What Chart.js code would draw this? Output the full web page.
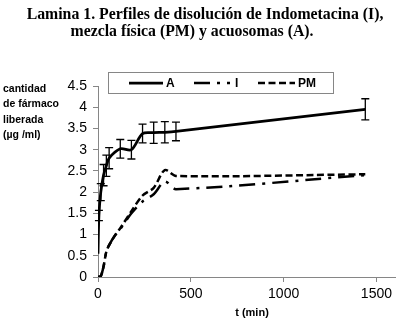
<!DOCTYPE html>
<html>
<head>
<meta charset="utf-8">
<script src="https://cdn.jsdelivr.net/npm/chart.js@4"></script>
<style>
html,body{margin:0;padding:0;background:#fff;}
#wrap{position:relative;width:398px;height:324px;}
</style>
</head>
<body>
<div id="wrap"><canvas id="c" width="398" height="324"></canvas></div>
<script>
// ---- data ----
const titleLines = ["Lamina 1. Perfiles de disolución de Indometacina (I),", "mezcla física (PM) y acuosomas (A)."];
const yTitleLines = ["cantidad", "de fármaco", "liberada", "(µg /ml)"];
const xTitle = "t (min)";
const seriesNames = ["A", "I", "PM"];

const tA   = [0, 5, 15, 30, 45, 60, 120, 180, 240, 300, 360, 420, 1440];
const valA = [0.55, 1.45, 2.0, 2.4, 2.62, 2.8, 3.02, 3.0, 3.38, 3.4, 3.41, 3.43, 3.95];
const errA = [0, 0.12, 0.2, 0.25, 0.25, 0.25, 0.22, 0.22, 0.22, 0.25, 0.25, 0.22, 0.25];

const tIPM  = [0, 15, 30, 45, 60, 90, 120, 180, 240, 300, 360, 420, 1440];
const valI  = [0, 0.02, 0.25, 0.6, 0.75, 0.97, 1.13, 1.5, 1.78, 1.95, 2.25, 2.07, 2.4];
const valPM = [0, 0.02, 0.25, 0.6, 0.75, 0.97, 1.15, 1.55, 1.92, 2.1, 2.52, 2.38, 2.42];

const xTicks = [0, 500, 1000, 1500];
const yTicks = [0, 0.5, 1, 1.5, 2, 2.5, 3, 3.5, 4, 4.5];

const toPts = (ts, vs) => ts.map((t, i) => ({x: t, y: vs[i]}));

const AXIS = '#868686';

const decor = {
  id: 'decor',
  afterDatasetsDraw(chart) {
    const ctx = chart.ctx, xs = chart.scales.x, ys = chart.scales.y;
    ctx.save();
    // error bars for A
    ctx.strokeStyle = '#000';
    ctx.lineWidth = 1.3;
    ctx.setLineDash([]);
    tA.forEach((t, i) => {
      const e = errA[i];
      if (!e) return;
      const x = xs.getPixelForValue(t);
      const y1 = ys.getPixelForValue(valA[i] + e);
      const y2 = ys.getPixelForValue(valA[i] - e);
      ctx.beginPath();
      ctx.moveTo(x, y1); ctx.lineTo(x, y2);
      ctx.moveTo(x - 4, y1); ctx.lineTo(x + 4, y1);
      ctx.moveTo(x - 4, y2); ctx.lineTo(x + 4, y2);
      ctx.stroke();
    });
    // legend box
    const lx = 108.5, ly = 72.5, lw = 225, lh = 21;
    ctx.fillStyle = '#fff';
    ctx.fillRect(lx, ly, lw, lh);
    ctx.strokeStyle = AXIS;
    ctx.lineWidth = 1;
    ctx.strokeRect(lx, ly, lw, lh);
    const items = [
      {ds: 0, x0: 129, x1: 163, tx: 166},
      {ds: 1, x0: 194, x1: 230, tx: 235},
      {ds: 2, x0: 258, x1: 295, tx: 298}
    ];
    const cy = ly + lh / 2;
    ctx.font = 'bold 12px "Liberation Sans", Arial, sans-serif';
    ctx.textBaseline = 'middle';
    ctx.textAlign = 'left';
    items.forEach(it => {
      const d = chart.data.datasets[it.ds];
      ctx.strokeStyle = '#000';
      ctx.lineWidth = d.borderWidth;
      ctx.lineCap = 'butt';
      ctx.setLineDash(d.borderDash || []);
      ctx.beginPath();
      ctx.moveTo(it.x0, cy); ctx.lineTo(it.x1, cy);
      ctx.stroke();
      ctx.setLineDash([]);
      ctx.fillStyle = '#000';
      ctx.fillText(d.label, it.tx, cy + 0.5);
    });
    ctx.restore();
  },
  afterDraw(chart) {
    const ctx = chart.ctx;
    ctx.save();
    ctx.fillStyle = '#000';
    // main title
    ctx.font = 'bold 15.8px "Liberation Serif", "Times New Roman", serif';
    ctx.textBaseline = 'middle';
    ctx.textAlign = 'center';
    ctx.fillText(titleLines[0], 205, 15);
    ctx.fillText(titleLines[1], 192, 32);
    // y title
    ctx.font = 'bold 10.5px "Liberation Sans", Arial, sans-serif';
    ctx.textAlign = 'left';
    yTitleLines.forEach((s, i) => ctx.fillText(s, 3, 89 + i * 15.5));
    // x title
    ctx.font = 'bold 11px "Liberation Sans", Arial, sans-serif';
    ctx.textAlign = 'center';
    ctx.fillText(xTitle, 252, 313);
    ctx.restore();
  }
};

new Chart(document.getElementById('c'), {
  type: 'scatter',
  data: {
    datasets: [
      {label: seriesNames[0], data: toPts(tA, valA), showLine: true, borderColor: '#000', backgroundColor: '#000',
       borderWidth: 2.75, pointRadius: 0, tension: 0.3, borderDash: []},
      {label: seriesNames[1], data: toPts(tIPM, valI), showLine: true, borderColor: '#000', backgroundColor: '#000',
       borderWidth: 2.5, pointRadius: 0, tension: 0.3, borderDash: [16, 7, 3, 7]},
      {label: seriesNames[2], data: toPts(tIPM, valPM), showLine: true, borderColor: '#000', backgroundColor: '#000',
       borderWidth: 2.5, pointRadius: 0, tension: 0.3, borderDash: [7, 3.5]}
    ]
  },
  options: {
    responsive: false,
    animation: false,
    devicePixelRatio: 1,
    layout: {padding: {left: 0, right: 3, top: 86, bottom: 0}},
    plugins: {
      legend: {display: false},
      tooltip: {enabled: false},
      title: {display: false}
    },
    scales: {
      x: {
        type: 'linear',
        min: 0, max: 1600,
        afterBuildTicks: s => { s.ticks = xTicks.map(v => ({value: v})); },
        afterFit: s => { s.height = 47; },
        border: {color: AXIS, width: 1},
        grid: {drawOnChartArea: false, drawTicks: true, tickLength: 5, color: AXIS},
        ticks: {color: '#000', padding: 4, maxRotation: 0, callback: v => String(v),
                font: {family: '"Liberation Sans", Arial, sans-serif', size: 14}}
      },
      y: {
        min: 0, max: 4.5,
        afterBuildTicks: s => { s.ticks = yTicks.map(v => ({value: v})); },
        afterFit: s => { s.width = 98; },
        border: {color: AXIS, width: 1},
        grid: {drawOnChartArea: false, drawTicks: true, tickLength: 5, color: AXIS},
        ticks: {color: '#000', padding: 6, callback: v => String(v),
                font: {family: '"Liberation Sans", Arial, sans-serif', size: 14}}
      }
    }
  },
  plugins: [decor]
});
</script>
</body>
</html>
